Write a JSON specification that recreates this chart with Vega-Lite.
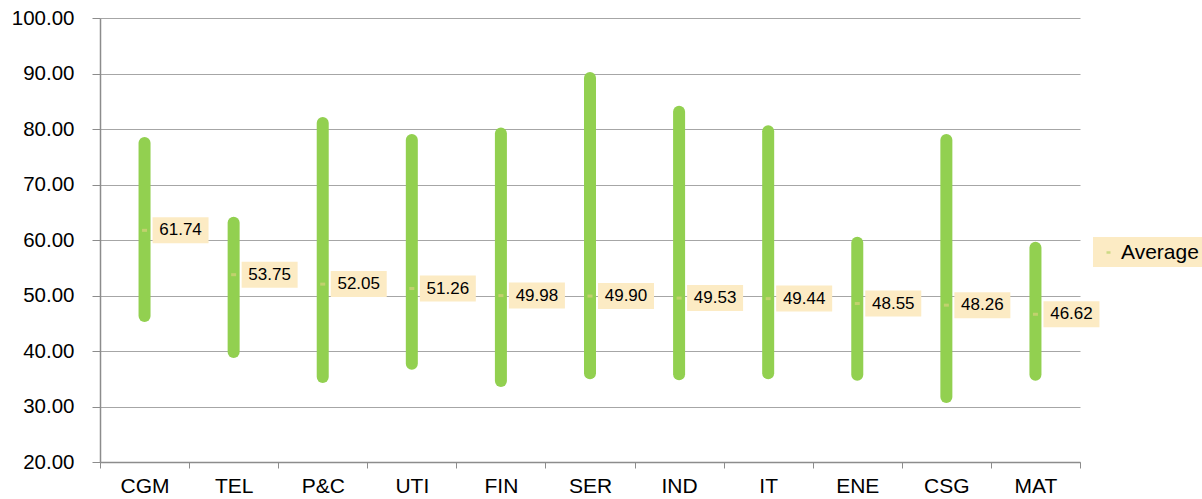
{
  "$schema": "https://vega.github.io/schema/vega-lite/v6.json",
  "width": 980,
  "height": 444,
  "autosize": "none",
  "padding": {"left": 100, "top": 18, "right": 122, "bottom": 37},
  "background": "white",
  "config": {"view": {"stroke": null}, "font": "Liberation Sans"},
  "data": {"values": [
    {"cat": "CGM", "low": 46.3, "high": 77.5, "avg": 61.74},
    {"cat": "TEL", "low": 39.8, "high": 63.1, "avg": 53.75},
    {"cat": "P&C", "low": 35.3, "high": 81.1, "avg": 52.05},
    {"cat": "UTI", "low": 37.7, "high": 78.0, "avg": 51.26},
    {"cat": "FIN", "low": 34.6, "high": 79.2, "avg": 49.98},
    {"cat": "SER", "low": 36.0, "high": 89.2, "avg": 49.90},
    {"cat": "IND", "low": 35.8, "high": 83.1, "avg": 49.53},
    {"cat": "IT", "low": 36.0, "high": 79.6, "avg": 49.44},
    {"cat": "ENE", "low": 35.7, "high": 59.5, "avg": 48.55},
    {"cat": "CSG", "low": 31.7, "high": 78.0, "avg": 48.26},
    {"cat": "MAT", "low": 35.7, "high": 58.6, "avg": 46.62}
  ]},
  "encoding": {
    "x": {
      "field": "cat", "type": "nominal", "sort": null,
      "scale": {"paddingInner": 0, "paddingOuter": 0},
      "axis": {
        "title": null, "labelAngle": 0, "tickBand": "extent", "tickSize": 6,
        "tickColor": "#8C8C8C", "domainColor": "#8C8C8C", "domainWidth": 1.5,
        "labelFontSize": 21, "labelColor": "#000000", "labelPadding": 7, "grid": false
      }
    }
  },
  "layer": [
    {
      "mark": {"type": "rule", "strokeWidth": 12, "strokeCap": "round", "color": "#92D050"},
      "encoding": {
        "y": {
          "field": "low", "type": "quantitative",
          "scale": {"domain": [20, 100], "nice": false, "zero": false},
          "axis": {
            "title": null, "values": [20, 30, 40, 50, 60, 70, 80, 90, 100], "format": ".2f",
            "grid": true, "gridColor": "#A6A6A6", "gridWidth": 1,
            "domainColor": "#8C8C8C", "domainWidth": 1.5, "tickColor": "#8C8C8C", "tickSize": 8,
            "labelFontSize": 20.5, "labelColor": "#000000", "labelPadding": 18
          }
        },
        "y2": {"field": "high"}
      }
    },
    {
      "mark": {"type": "tick", "thickness": 3, "size": 5},
      "encoding": {
        "y": {"field": "avg", "type": "quantitative"},
        "color": {
          "datum": "Average",
          "scale": {"range": ["#D6D27A"]},
          "legend": {
            "orient": "none", "legendX": 993, "legendY": 219, "title": null,
            "fillColor": "#FCEBC4", "padding": 4, "labelFontSize": 21, "labelColor": "#000000",
            "symbolType": "M-0.2,0L0.2,0", "symbolSize": 400, "symbolStrokeWidth": 2.5,
            "symbolStrokeColor": "#B8D36A", "symbolFillColor": "#B8D36A", "labelOffset": 1
          }
        }
      }
    },
    {
      "mark": {"type": "rect", "width": 56, "height": 26, "xOffset": 36, "color": "#FCEBC4"},
      "encoding": {"y": {"field": "avg", "type": "quantitative"}}
    },
    {
      "mark": {"type": "text", "xOffset": 36, "fontSize": 17, "color": "#000000", "align": "center", "baseline": "middle"},
      "encoding": {
        "y": {"field": "avg", "type": "quantitative"},
        "text": {"field": "avg", "type": "quantitative", "format": ".2f"}
      }
    }
  ]
}
